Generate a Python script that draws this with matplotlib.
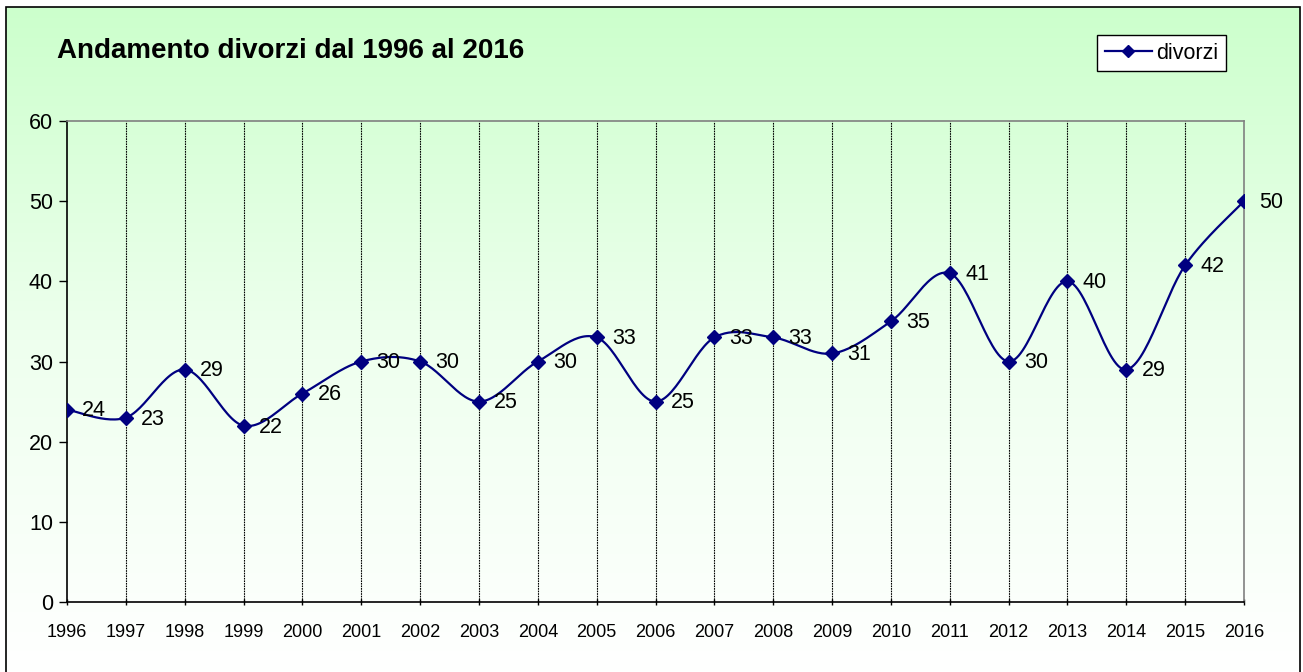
import numpy as np
import matplotlib
matplotlib.use("Agg")
import matplotlib.pyplot as plt
from matplotlib.patches import Rectangle
from matplotlib.lines import Line2D
from matplotlib.colors import LinearSegmentedColormap

years = list(range(1996, 2017))
divorzi = [24, 23, 29, 22, 26, 30, 30, 25, 30, 33, 25, 33, 33, 31, 35, 41, 30, 40, 29, 42, 50]
title = "Andamento divorzi dal 1996 al 2016"
series_name = "divorzi"

plt.rcParams['font.family'] = ['Liberation Sans', 'DejaVu Sans']

W, H = 1303, 672
fig = plt.figure(figsize=(W / 100, H / 100), dpi=100)
fig.patch.set_facecolor('white')

# background gradient inside the frame
fx0, fx1 = 6 / W, 1300 / W
fy0, fy1 = 0.0, 1 - 7 / H
bg = fig.add_axes([fx0, fy0, fx1 - fx0, fy1 - fy0], zorder=-10)
cmap = LinearSegmentedColormap.from_list('g', ['#FFFFFF', '#EEFFEE', '#CCFFCC'])
grad = np.linspace(0, 1, 256).reshape(-1, 1)
bg.imshow(grad, aspect='auto', cmap=cmap, origin='lower', extent=[0, 1, 0, 1])
bg.set_axis_off()
fig.patches.append(Rectangle((fx0, fy0 - 0.01), fx1 - fx0, fy1 - fy0 + 0.01,
                             transform=fig.transFigure, fill=False,
                             edgecolor='black', linewidth=1.2, zorder=5))

ax = fig.add_axes([67 / W, 70 / H, (1244 - 67) / W, (602 - 121) / H])
ax.patch.set_alpha(0)

x = np.arange(len(years), dtype=float)
y = np.array(divorzi, dtype=float)

# Excel-style smooth line (Catmull-Rom / Bezier)
def bezier_smooth(xp, yp, n=30):
    pts = np.column_stack([xp, yp])
    out = [pts[0]]
    for i in range(len(pts) - 1):
        p0 = pts[i - 1] if i > 0 else pts[i]
        p1 = pts[i]
        p2 = pts[i + 1]
        p3 = pts[i + 2] if i + 2 < len(pts) else pts[i + 1]
        c1 = p1 + (p2 - p0) / 6
        c2 = p2 - (p3 - p1) / 6
        t = np.linspace(0, 1, n)[1:, None]
        seg = ((1 - t) ** 3) * p1 + 3 * ((1 - t) ** 2) * t * c1 + 3 * (1 - t) * t ** 2 * c2 + t ** 3 * p2
        out.extend(seg)
    out = np.array(out)
    return out[:, 0], out[:, 1]

sx, sy = bezier_smooth(x, y)
ax.plot(sx, sy, color='#000080', linewidth=1.6, zorder=3)
ax.plot(x, y, linestyle='none', marker='D', markersize=7, color='#000080', zorder=4)

for xi, yi in zip(x, y):
    ax.annotate(f"{int(yi)}", (xi, yi), xytext=(11, -1), textcoords='offset points',
                ha='left', va='center', fontsize=15.5, color='black', zorder=5)

ax.set_xlim(x[0], x[-1])
ax.set_ylim(0, 60)
ax.set_yticks(range(0, 61, 10))
ax.set_xticks(x)
ax.set_xticklabels([str(v) for v in years], fontsize=13)
ax.tick_params(axis='y', labelsize=15.5, length=6, width=1, direction='out', pad=4)
ax.tick_params(axis='x', length=5, width=1, direction='inout', pad=13)

for xi in x[1:-1]:
    ax.axvline(xi, color='black', linewidth=0.8, linestyle=(0, (1.5, 0.8)), zorder=1)

ax.spines['left'].set_color('black')
ax.spines['bottom'].set_color('black')
ax.spines['top'].set_color('#808080')
ax.spines['right'].set_color('#808080')
for s in ax.spines.values():
    s.set_linewidth(1.2)

fig.text(57 / W, 1 - 48 / H, title, fontsize=20, fontweight='bold', ha='left', va='center_baseline')

h = Line2D([], [], color='#000080', linewidth=1.6, marker='D', markersize=6)
leg = ax.legend([h], [series_name], loc='upper right',
                bbox_to_anchor=(1226 / W, 1 - 35 / H), bbox_transform=fig.transFigure,
                fontsize=15.5, frameon=True, fancybox=False, handlelength=2.2,
                borderpad=0.35, handletextpad=0.2, borderaxespad=0)
leg.get_frame().set_edgecolor('black')
leg.get_frame().set_linewidth(1)
leg.get_frame().set_facecolor('white')
leg.get_frame().set_alpha(1)

fig.savefig('out.png', dpi=100)
